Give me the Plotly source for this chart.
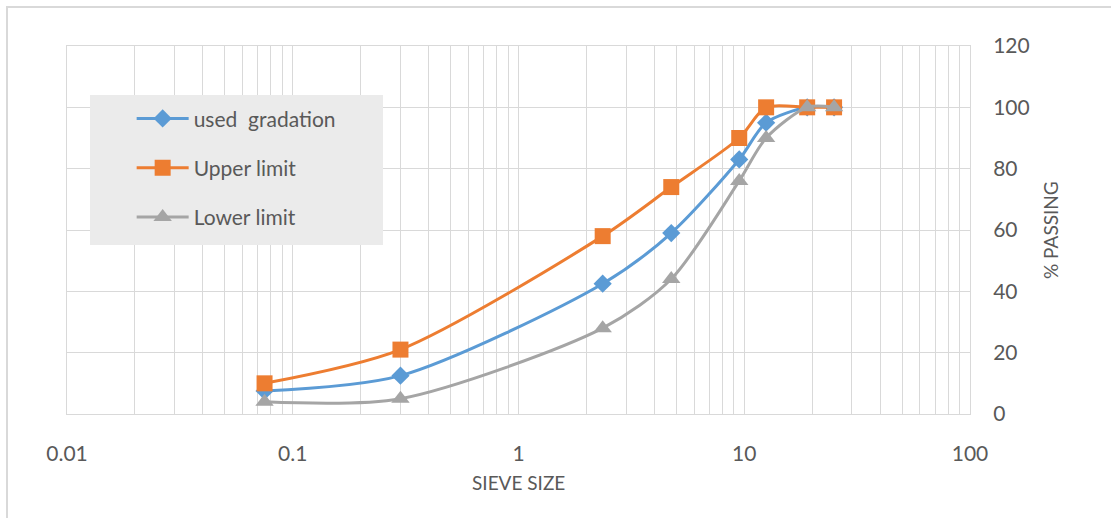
import plotly.graph_objects as go

# Sieve sizes (mm) and percent passing
sieve_size = [0.075, 0.3, 2.36, 4.75, 9.5, 12.5, 19, 25]
used_gradation = [7.5, 12.5, 42.5, 59, 83, 95, 100, 100]
upper_limit = [10, 21, 58, 74, 90, 100, 100, 100]
lower_limit = [4, 5, 28, 44, 76, 90, 100, 100]

x_tick_vals = [0.01, 0.1, 1, 10, 100]
x_tick_text = ["0.01", "0.1", "1", "10", "100"]

series = [
    ("used  gradation", used_gradation, "#5B9BD5", "diamond", 14),
    ("Upper limit", upper_limit, "#ED7D31", "square", 16),
    ("Lower limit", lower_limit, "#A5A5A5", "triangle-up", 16),
]

FONT = "Lato, 'Open Sans', sans-serif"
TEXT = "#595959"
GRID = "#D9D9D9"

fig = go.Figure()
for i, (name, vals, color, symbol, size) in enumerate(series):
    fig.add_trace(go.Scatter(
        x=sieve_size, y=vals, name=name, mode="lines+markers",
        line=dict(color=color, width=3, shape="spline", smoothing=0.8),
        marker=dict(color=color, symbol=symbol, size=size, line=dict(width=0)),
        legendgroup=f"g{i}",
    ))

fig.update_layout(
    width=1111, height=518,
    margin=dict(l=67, r=141, t=46, b=104),
    paper_bgcolor="white", plot_bgcolor="white",
    font=dict(family=FONT, color=TEXT, size=20),
    showlegend=True,
    legend=dict(
        x=0.0716, y=0.858, xanchor="left", yanchor="top",
        bgcolor="rgba(0,0,0,0)", borderwidth=0,
        font=dict(family=FONT, size=21, color=TEXT),
        itemwidth=52, tracegroupgap=19,
    ),
    shapes=[
        # grey legend panel
        dict(type="rect", xref="paper", yref="paper",
             x0=(90 - 67) / 903, x1=(383 - 67) / 903,
             y0=(414 - 245) / 368, y1=(414 - 95) / 368,
             fillcolor="#EBEBEB", line=dict(width=0), layer="above"),
        # chart frame
        dict(type="rect", xref="paper", yref="paper",
             x0=(7 - 67) / 903, x1=(1120 - 67) / 903,
             y0=(414 - 530) / 368, y1=(414 - 7) / 368,
             fillcolor="rgba(0,0,0,0)", line=dict(width=2, color="#D9D9D9"),
             layer="below"),
    ],
    annotations=[
        dict(text="SIEVE SIZE", xref="paper", yref="paper", x=0.5, y=(414 - 482) / 368,
             showarrow=False, xanchor="center", yanchor="middle",
             font=dict(family=FONT, size=19, color=TEXT)),
        dict(text="% PASSING", xref="paper", yref="paper", x=(1050 - 67) / 903, y=0.5,
             showarrow=False, xanchor="center", yanchor="middle", textangle=-90,
             font=dict(family=FONT, size=19, color=TEXT)),
    ],
)

fig.update_xaxes(
    type="log", range=[-2, 2],
    tickvals=x_tick_vals, ticktext=x_tick_text,
    showgrid=True, gridcolor=GRID, gridwidth=1,
    minor=dict(showgrid=True, gridcolor=GRID, gridwidth=1, dtick="D1"),
    showline=True, linecolor=GRID, linewidth=1, mirror=True,
    ticks="", ticklabelstandoff=21, zeroline=False,
    tickfont=dict(family=FONT, size=21, color=TEXT),
)
fig.update_yaxes(
    range=[0, 120], dtick=20, side="right",
    showgrid=True, gridcolor=GRID, gridwidth=1,
    showline=True, linecolor=GRID, linewidth=1, mirror=True,
    ticks="", ticklabelstandoff=18, zeroline=False,
    tickfont=dict(family=FONT, size=21, color=TEXT),
)

fig.write_html("out.html")
